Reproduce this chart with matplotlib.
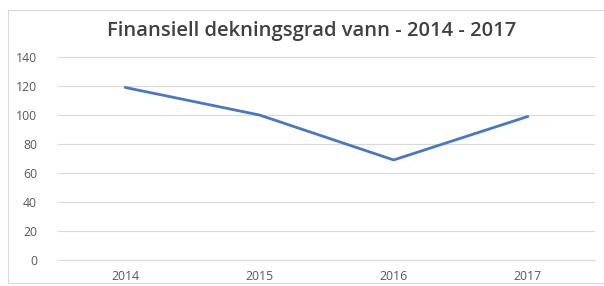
import matplotlib
matplotlib.use("Agg")
import matplotlib.pyplot as plt
from matplotlib.patches import Rectangle

years = ["2014", "2015", "2016", "2017"]
dekningsgrad = [119, 100, 69, 99]
y_ticks = [0, 20, 40, 60, 80, 100, 120, 140]

plt.rcParams['font.family'] = ['Open Sans', 'DejaVu Sans']

fig = plt.figure(figsize=(6.04, 2.86), dpi=100)
ax = fig.add_axes([58 / 604, 1 - 260 / 286, 537 / 604, 203 / 286])

x = list(range(len(years)))
ax.plot(x, dekningsgrad, color="#4a78bd", linewidth=2.0, solid_capstyle="round")

ax.set_xlim(-0.5, len(years) - 0.5)
ax.set_ylim(0, 140)
ax.set_yticks(y_ticks)
ax.set_xticks(x)
ax.set_xticklabels(years)
ax.grid(axis="y", color="#d9d9d9", linewidth=0.8)
ax.set_axisbelow(True)
for s in ["top", "right", "left"]:
    ax.spines[s].set_visible(False)
ax.spines["bottom"].set_color("#d9d9d9")
ax.tick_params(length=0, labelsize=8.8, colors="#595959")
ax.tick_params(axis="y", pad=15)
ax.tick_params(axis="x", pad=7)

fig.text(312 / 604, 1 - 31 / 286, "Finansiell dekningsgrad vann - 2014 - 2017",
         ha="center", va="center", fontsize=14.5, fontweight="semibold", color="#404040")

fig.patches.append(Rectangle((8 / 604, 3 / 286), 600 / 604, 273 / 286, transform=fig.transFigure,
                             fill=False, edgecolor="#d9d9d9", linewidth=0.8))

fig.savefig("out.png", dpi=100)
